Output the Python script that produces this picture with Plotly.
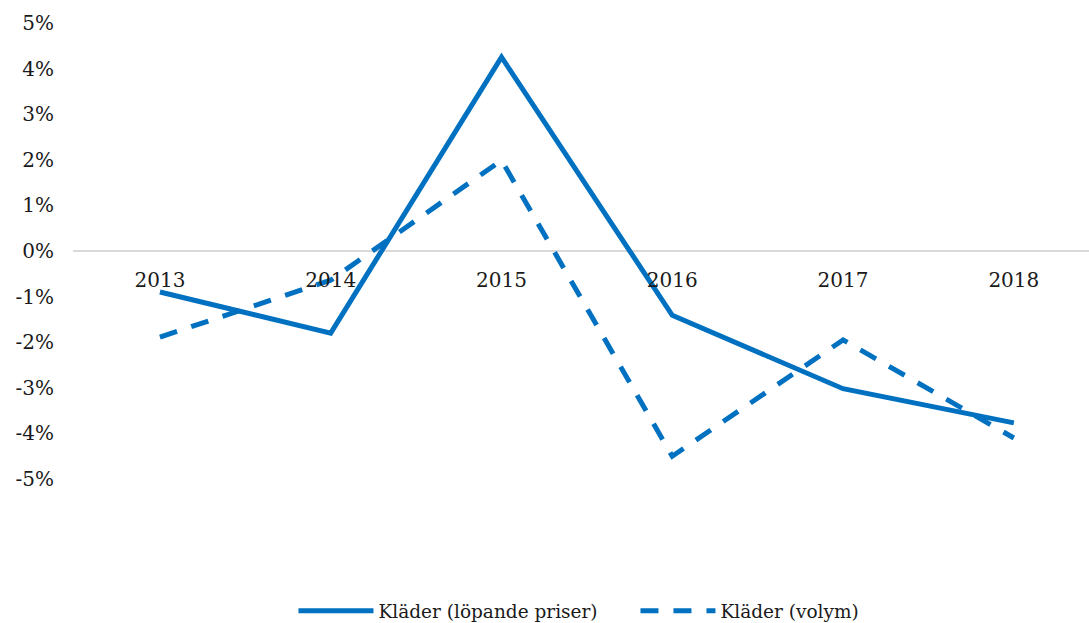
import plotly.graph_objects as go

years = ["2013", "2014", "2015", "2016", "2017", "2018"]
lopande = [-0.90, -1.80, 4.25, -1.41, -3.02, -3.77]
volym = [-1.89, -0.64, 1.99, -4.50, -1.95, -4.10]
y_ticks = [5, 4, 3, 2, 1, 0, -1, -2, -3, -4, -5]
y_labels = [f"{v}%" for v in y_ticks]

BLUE = "#0070C0"
FONT = "DejaVu Serif"

fig = go.Figure()
fig.add_trace(go.Scatter(x=list(range(len(years))), y=lopande, mode="lines",
                         name="Kläder (löpande priser)",
                         line=dict(color=BLUE, width=5)))
fig.add_trace(go.Scatter(x=list(range(len(years))), y=volym, mode="lines",
                         name="Kläder (volym)",
                         line=dict(color=BLUE, width=5, dash="18px,15px")))

fig.update_layout(
    width=1089, height=623,
    margin=dict(l=73, r=0, t=23, b=144, autoexpand=False),
    paper_bgcolor="white", plot_bgcolor="white",
    font=dict(family=FONT, size=20, color="#1a1a1a"),
    showlegend=True,
    legend=dict(orientation="h", x=0.217, xanchor="left", y=-0.29, yanchor="middle",
                font=dict(family=FONT, size=18.5, color="#1a1a1a"),
                itemwidth=75, entrywidth=252, entrywidthmode="pixels",
                traceorder="normal"),
    xaxis=dict(tickmode="array", tickvals=list(range(len(years))), ticktext=years,
               range=[-0.509, 5.44], showgrid=False, zeroline=False,
               showline=False, anchor="free", position=0.5,
               ticks="outside", ticklen=11, tickcolor="rgba(0,0,0,0)"),
    yaxis=dict(range=[-5, 5], tickmode="array", tickvals=y_ticks, ticktext=y_labels,
               showgrid=False, zeroline=True, zerolinecolor="#d9d9d9", zerolinewidth=2,
               showline=False, ticklabelstandoff=18),
)

fig.write_html("out.html")
